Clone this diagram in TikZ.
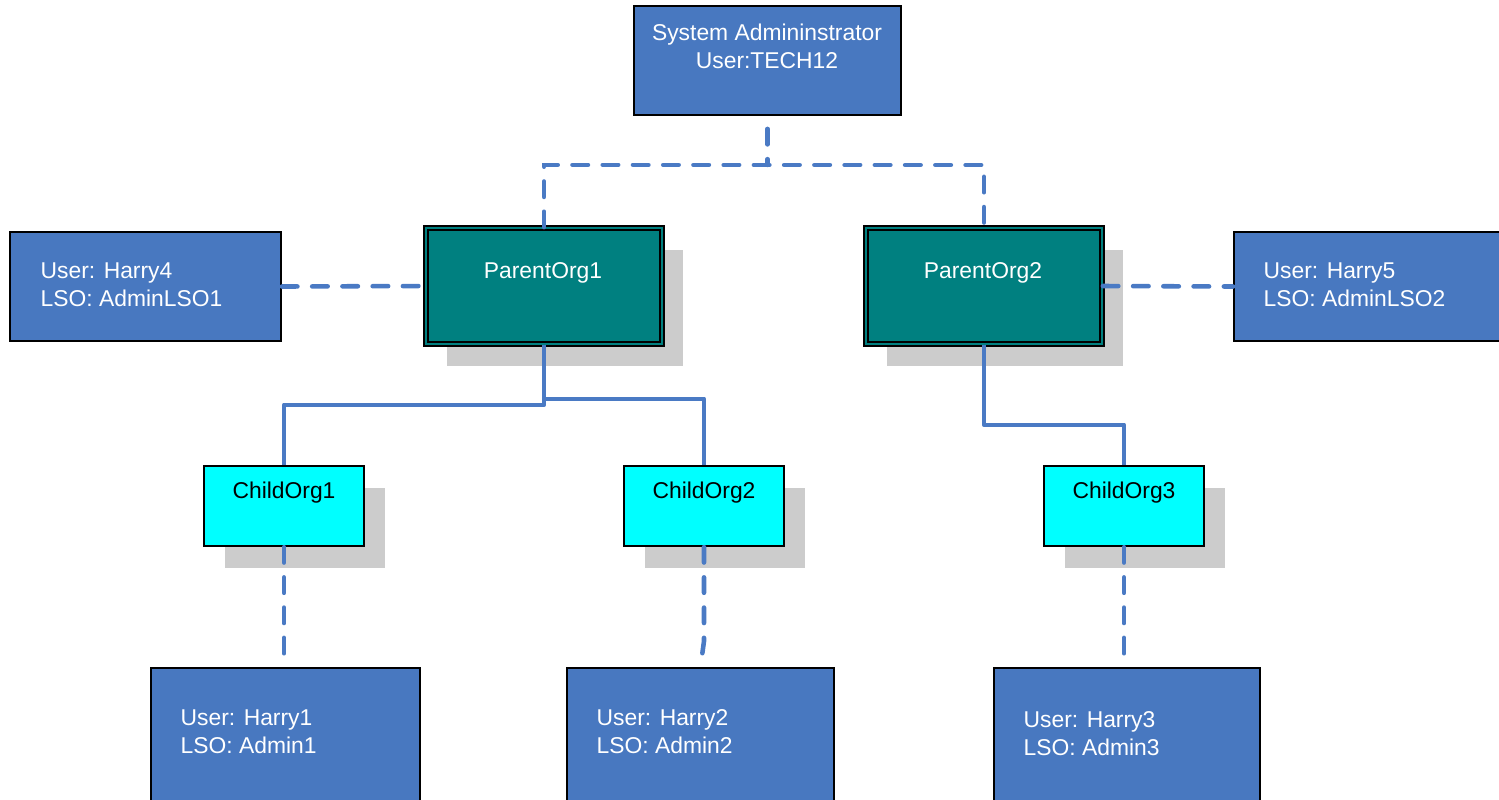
\documentclass[tikz,border=0pt]{standalone}
\usepackage{fontspec}
\setmainfont{Liberation Sans}
\usetikzlibrary{shadows}
\definecolor{boxblue}{HTML}{4878C0}
\definecolor{lineblue}{HTML}{4A7AC4}
\definecolor{orgteal}{HTML}{008080}
\definecolor{orgcyan}{HTML}{00FFFF}
\definecolor{shadowgray}{HTML}{CCCCCC}

\begin{document}
\begin{tikzpicture}[x=0.01cm, y=-0.01cm, font=\fontsize{6.5}{8}\selectfont,
  userbox/.style={draw=black, line width=0.5pt, fill=boxblue, inner sep=0pt},
  orgshadow/.style={drop shadow={shadow xshift=0.21cm, shadow yshift=-0.22cm,
    fill=shadowgray, opacity=1}},
  parentbox/.style={draw=black, line width=0.45pt, double=orgteal,
    double distance=0.8pt, fill=orgteal, minimum width=2.36cm,
    minimum height=1.16cm, inner sep=0pt, orgshadow},
  childbox/.style={draw=black, line width=0.6pt, fill=orgcyan,
    minimum width=1.6cm, minimum height=0.8cm, inner sep=0pt, orgshadow},
  wtxt/.style={text=white, inner sep=0pt},
  btxt/.style={text=black, inner sep=0pt},
  dashln/.style={lineblue, line width=1.3pt, line cap=round,
    dash pattern=on 4.4pt off 4.2pt},
  solidln/.style={lineblue, line width=1.3pt, line join=round}]
  \useasboundingbox (0,0) rectangle (1499,799);
  \clip (0,0) rectangle (1499,799);

  % System administrator
  \node[userbox, minimum width=2.67cm, minimum height=1.09cm] (sysadm) at (767.5,60.5) {};
  \node[wtxt, align=center] (sysadmtxt) at (767,46) {System Admininstrator\\User:TECH12};

  % Parent organisations
  \node[parentbox] (parent1) at (544,286) {};
  \node[wtxt] (parent1txt) at (543,273) {ParentOrg1};
  \node[parentbox] (parent2) at (984,286) {};
  \node[wtxt] (parent2txt) at (983,273) {ParentOrg2};

  % LSO of the parent organisations
  \node[userbox, minimum width=2.71cm, minimum height=1.09cm] (lso1) at (145.5,286.5) {};
  \node[wtxt, anchor=west, align=left] (lso1txt) at (40,285) {User: Harry4\\LSO: AdminLSO1};
  \node[userbox, minimum width=2.71cm, minimum height=1.09cm] (lso2) at (1369.5,286.5) {};
  \node[wtxt, anchor=west, align=left] (lso2txt) at (1263,285) {User: Harry5\\LSO: AdminLSO2};

  % Child organisations
  \node[childbox] (child1) at (284,506) {};
  \node[btxt] (child1txt) at (284,493) {ChildOrg1};
  \node[childbox] (child2) at (704,506) {};
  \node[btxt] (child2txt) at (704,493) {ChildOrg2};
  \node[childbox] (child3) at (1124,506) {};
  \node[btxt] (child3txt) at (1124,493) {ChildOrg3};

  % LSO of the child organisations
  \node[userbox, minimum width=2.69cm, minimum height=1.42cm] (user1) at (285.5,739) {};
  \node[wtxt, anchor=west, align=left] (user1txt) at (180,732) {User: Harry1\\LSO: Admin1};
  \node[userbox, minimum width=2.67cm, minimum height=1.42cm] (user2) at (700.5,739) {};
  \node[wtxt, anchor=west, align=left] (user2txt) at (596,732) {User: Harry2\\LSO: Admin2};
  \node[userbox, minimum width=2.66cm, minimum height=1.42cm] (user3) at (1127,739) {};
  \node[wtxt, anchor=west, align=left] (user3txt) at (1023,734) {User: Harry3\\LSO: Admin3};

  % Dashed links of the administrators
  \draw[dashln] ([yshift=-0.13cm]sysadm.south) -- ++(0,36) coordinate (sysjoin);
  \draw[dashln] (parent1.north) |- (sysjoin) -| (parent2.north);
  \draw[dashln] (lso1.east) -- (parent1.west);
  \draw[dashln] (parent2.east) -- (lso2.west);
  \draw[dashln] (child1.south) -- (child1.south |- user1.north);
  \draw[dashln] (child2.south) -- ++(0,94) -- (user2.north);
  \draw[dashln] (child3.south) -- (child3.south |- user3.north);

  % Solid links to the children
  \draw[solidln] (parent1.south) -- ++(0,60) -| (child1.north);
  \draw[solidln] (parent1.south) -- ++(0,54) -| (child2.north);
  \draw[solidln] (parent2.south) -- ++(0,80) -| (child3.north);
\end{tikzpicture}
\end{document}
